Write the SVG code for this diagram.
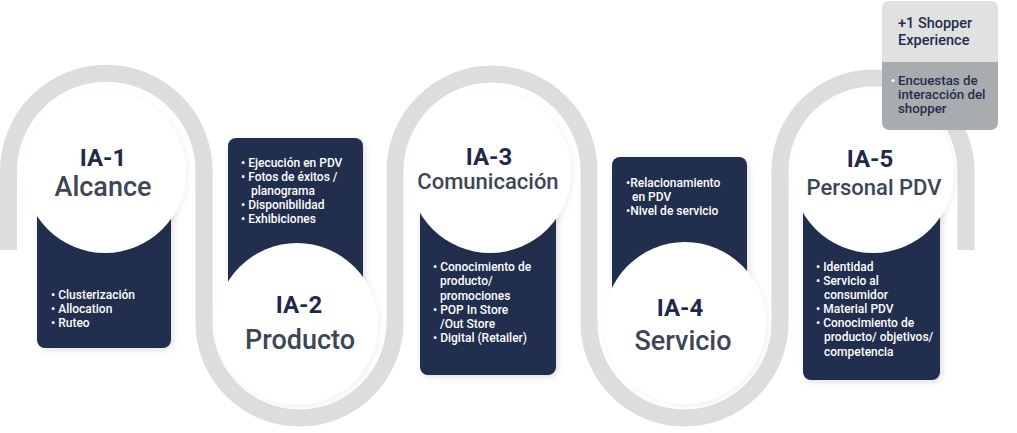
<svg xmlns="http://www.w3.org/2000/svg" width="1017" height="433" viewBox="0 0 1017 433">
<defs>
<filter id="sh" x="-20%" y="-20%" width="140%" height="140%">
<feDropShadow dx="2" dy="2" stdDeviation="3" flood-color="#000" flood-opacity="0.13"/>
</filter>
<filter id="shc" x="-20%" y="-20%" width="140%" height="140%">
<feDropShadow dx="2" dy="2" stdDeviation="3" flood-color="#000" flood-opacity="0.06"/>
</filter>
<style>
.box{fill:#232e4d;filter:url(#sh)}
.circ{fill:#ffffff;filter:url(#shc)}
.track{fill:none;stroke:#dcdddd;stroke-width:17}
.ttl{font-family:Roboto,"Liberation Sans",sans-serif;font-weight:700;font-size:24px;fill:#1f2a4a;text-anchor:middle}
.sub{font-family:Roboto,"Liberation Sans",sans-serif;font-weight:500;font-size:27px;fill:#3c4656;text-anchor:middle}
.sub2{font-size:22px}
.bl{font-family:Roboto,"Liberation Sans",sans-serif;font-weight:500;font-size:12px;fill:#ffffff}
.sht{font-family:Roboto,"Liberation Sans",sans-serif;font-weight:500;font-size:14.5px;fill:#232e4d}
.shb{font-family:Roboto,"Liberation Sans",sans-serif;font-weight:500;font-size:13.3px;fill:#232e4d}
</style>
</defs>
<rect width="1017" height="433" fill="#ffffff"/>
<g id="connectors">
<path class="track" d="M 8.5 250 L 8.5 171 A 97.75 97.75 0 0 1 204 171 L 204 322.5 A 95.5 95.5 0 0 0 395 322.5 L 395 171 A 97 97 0 0 1 589 171 L 589 322.5 A 95.5 95.5 0 0 0 780 322.5 L 780 171 A 93 93 0 0 1 966 171 L 966 250"/>
</g>
<g id="ia1">
<rect class="box" x="37" y="200" width="134" height="148" rx="8"/>
<circle class="circ" cx="105" cy="172" r="81"/>
<text class="ttl" x="103" y="166">IA-1</text>
<text class="sub" x="103" y="196">Alcance</text>
<text class="bl"><tspan x="51" y="299">• Clusterización</tspan><tspan x="51" y="313">• Allocation</tspan><tspan x="51" y="327">• Ruteo</tspan></text>
</g>
<g id="ia2">
<rect class="box" x="228" y="138" width="135" height="160" rx="8"/>
<circle class="circ" cx="297" cy="324" r="81"/>
<text class="ttl" x="299" y="313">IA-2</text>
<text class="sub" x="300" y="349">Producto</text>
<text class="bl"><tspan x="241" y="167">• Ejecución en PDV</tspan><tspan x="241" y="181">• Fotos de éxitos /</tspan><tspan x="251" y="195">planograma</tspan><tspan x="241" y="209">• Disponibilidad</tspan><tspan x="241" y="223">• Exhibiciones</tspan></text>
</g>
<g id="ia3">
<rect class="box" x="420" y="200" width="136" height="175" rx="8"/>
<circle class="circ" cx="490" cy="172" r="81"/>
<text class="ttl" x="489" y="165">IA-3</text>
<text class="sub sub2" x="488" y="189">Comunicación</text>
<text class="bl"><tspan x="433" y="271">• Conocimiento de</tspan><tspan x="440" y="285">producto/</tspan><tspan x="440" y="299.5">promociones</tspan><tspan x="433" y="313.5">• POP In Store</tspan><tspan x="440" y="327.5">/Out Store</tspan><tspan x="433" y="342">• Digital (Retailer)</tspan></text>
</g>
<g id="ia4">
<rect class="box" x="612" y="157" width="135" height="150" rx="8"/>
<circle class="circ" cx="685" cy="323" r="81"/>
<text class="ttl" x="680" y="316">IA-4</text>
<text class="sub" x="683" y="350">Servicio</text>
<text class="bl"><tspan x="626" y="187">•Relacionamiento</tspan><tspan x="632" y="201">en PDV</tspan><tspan x="626" y="215">•Nivel de servicio</tspan></text>
</g>
<g id="ia5">
<rect class="box" x="803" y="200" width="137" height="180" rx="8"/>
<circle class="circ" cx="873" cy="172" r="81"/>
<text class="ttl" x="870" y="167">IA-5</text>
<text class="sub sub2" x="874" y="195">Personal PDV</text>
<text class="bl"><tspan x="816" y="271">• Identidad</tspan><tspan x="816" y="285">• Servicio al</tspan><tspan x="824" y="299">consumidor</tspan><tspan x="816" y="313">• Material PDV</tspan><tspan x="816" y="327">• Conocimiento de</tspan><tspan x="824" y="341">producto/ objetivos/</tspan><tspan x="824" y="356">competencia</tspan></text>
</g>
<g id="shopper">
<path d="M 882 62 L 882 8 Q 882 1 889 1 L 991 1 Q 998 1 998 8 L 998 62 Z" fill="#e0e1e1"/>
<path d="M 882 62 L 998 62 L 998 122 Q 998 130 990 130 L 890 130 Q 882 130 882 122 Z" fill="#a8acaf"/>
<text class="sht"><tspan x="898" y="28">+1 Shopper</tspan><tspan x="898" y="45">Experience</tspan></text>
<circle cx="893" cy="80.5" r="1.6" fill="#ffffff"/>
<text class="shb"><tspan x="898" y="85">Encuestas de</tspan><tspan x="898" y="99">interacción del</tspan><tspan x="898" y="113">shopper</tspan></text>
</g>
</svg>
